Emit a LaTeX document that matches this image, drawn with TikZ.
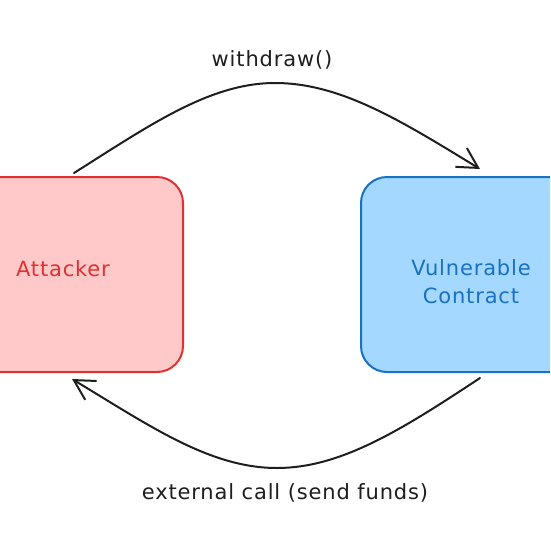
\documentclass[tikz,border=0pt]{standalone}
\usepackage{fontspec}
\setmainfont[LetterSpace=4]{DejaVu Sans}
\usetikzlibrary{arrows.meta, positioning}
\definecolor{cred}{HTML}{E03131}
\definecolor{credfill}{HTML}{FFC9C9}
\definecolor{cblue}{HTML}{1971C2}
\definecolor{cbluefill}{HTML}{A5D8FF}
\definecolor{cink}{HTML}{1E1E1E}
\tikzset{
  every picture/.style={line width=2pt},
  box/.style={draw=#1, fill=#1fill, rounded corners=26pt, minimum width=240pt, minimum height=195pt},
  box/.default=cred,
  boxtext/.style={text=#1, align=center, font=\fontsize{21}{28}\selectfont},
  arrow/.style={-{Straight Barb[length=20pt, width=22pt]}, draw=cink, line width=2pt, line cap=round},
  msg/.style={font=\fontsize{21}{24}\selectfont, text=cink},
}

\begin{document}
\begin{tikzpicture}[x=1pt, y=-1pt]
  \useasboundingbox (0,0) rectangle (550,550);
  \clip (0,0) rectangle (550,550);
  % the two parties, both run off the page edge
  \node[box=cred] (atk) at (63,274.5) {};
  \node[box=cblue, minimum width=220pt] (vc) at (471,274.5) {};
  \node[boxtext=cred] (atktxt) at ([yshift=6pt]atk.center) {Attacker};
  \node[boxtext=cblue] (vctxt) at ([yshift=-7pt]vc.center) {Vulnerable\\Contract};
  \coordinate (wtop) at (275,83);
  \coordinate (ebot) at (277,468);
  \draw[arrow] ([xshift=11pt,yshift=3pt]atk.north) .. controls (150,125) and (210,83) .. (wtop) .. controls (340,83) and (400,120) .. ([xshift=9pt,yshift=7pt]vc.north);
  \draw[arrow] ([xshift=9pt,yshift=-5pt]vc.south) .. controls (400,431) and (340,468) .. (ebot) .. controls (210,468) and (150,426) .. ([xshift=9pt,yshift=-6pt]atk.south);
  \node[msg] (lblw) at (272,60) {withdraw()};
  \node[msg] (lble) at (285,493) {external call (send funds)};
\end{tikzpicture}
\end{document}
